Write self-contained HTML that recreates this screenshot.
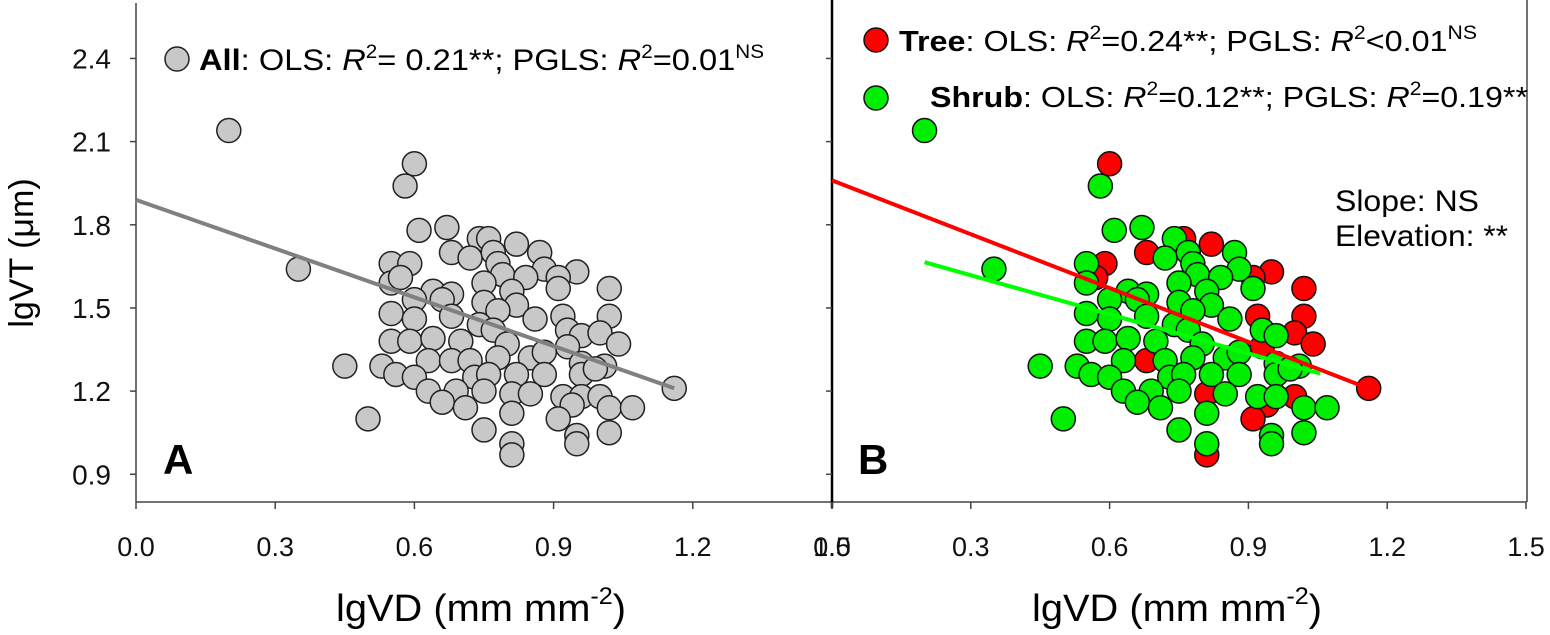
<!DOCTYPE html>
<html><head><meta charset="utf-8"><style>
html,body{margin:0;padding:0;background:#fff;}
svg{display:block;font-family:"Liberation Sans",sans-serif;}
</style></head><body>
<svg id="chart" width="1550" height="635" viewBox="0 0 1550 635">
<g id="axes"></g>
<g id="marks"></g>
<g id="labels">
  <text x="33" y="253" font-size="34" text-anchor="middle" transform="rotate(-90 33 253)">lgVT (μm)</text>
  <text x="336" y="621" font-size="38" textLength="290" lengthAdjust="spacingAndGlyphs">lgVD (mm mm<tspan dy="-17" font-size="24">-2</tspan><tspan dy="17">)</tspan></text>
  <text x="1032" y="621" font-size="38" textLength="290" lengthAdjust="spacingAndGlyphs">lgVD (mm mm<tspan dy="-17" font-size="24">-2</tspan><tspan dy="17">)</tspan></text>
  <text x="163" y="474" font-size="42" font-weight="bold">A</text>
  <text x="858" y="474" font-size="42" font-weight="bold">B</text>
  <g>
    <circle cx="177" cy="59" r="12" fill="#c8c8c8" stroke="#222" stroke-width="1.5"/>
    <text x="199" y="70" font-size="30" textLength="565" lengthAdjust="spacingAndGlyphs"><tspan font-weight="bold">All</tspan>: OLS: <tspan font-style="italic">R</tspan><tspan dy="-12" font-size="19">2</tspan><tspan dy="12">= 0.21**; PGLS: </tspan><tspan font-style="italic">R</tspan><tspan dy="-12" font-size="19">2</tspan><tspan dy="12">=0.01</tspan><tspan dy="-12" font-size="19">NS</tspan></text>
  </g>
  <g>
    <circle cx="876" cy="40" r="12" fill="#ff0000" stroke="#111" stroke-width="1.5"/>
    <text x="899" y="51" font-size="29" textLength="578" lengthAdjust="spacingAndGlyphs"><tspan font-weight="bold">Tree</tspan>: OLS: <tspan font-style="italic">R</tspan><tspan dy="-12" font-size="19">2</tspan><tspan dy="12">=0.24**; PGLS: </tspan><tspan font-style="italic">R</tspan><tspan dy="-12" font-size="19">2</tspan><tspan dy="12">&lt;0.01</tspan><tspan dy="-12" font-size="19">NS</tspan></text>
  </g>
  <g>
    <circle cx="876" cy="98" r="12" fill="#00ee00" stroke="#111" stroke-width="1.5"/>
    <text x="930" y="107" font-size="29" textLength="598" lengthAdjust="spacingAndGlyphs"><tspan font-weight="bold">Shrub</tspan>: OLS: <tspan font-style="italic">R</tspan><tspan dy="-12" font-size="19">2</tspan><tspan dy="12">=0.12**; PGLS: </tspan><tspan font-style="italic">R</tspan><tspan dy="-12" font-size="19">2</tspan><tspan dy="12">=0.19**</tspan></text>
  </g>
  <text x="1335" y="211" font-size="30" textLength="144" lengthAdjust="spacingAndGlyphs">Slope: NS</text>
  <text x="1335" y="246" font-size="30" textLength="173" lengthAdjust="spacingAndGlyphs">Elevation: **</text>
</g>
</svg>
<script>
const xTicks = [0.0, 0.3, 0.6, 0.9, 1.2, 1.5];
const xTickLabels = ["0.0","0.3","0.6","0.9","1.2","1.5"];
const yTicks = [0.9, 1.2, 1.5, 1.8, 2.1, 2.4];
const yTickLabels = ["0.9","1.2","1.5","1.8","2.1","2.4"];
const lgVD = [0.20,0.35,0.45,0.50,0.60,0.58,0.61,0.67,0.74,0.76,0.82,0.87,0.68,0.72,0.77,0.78,0.55,0.59,0.88,0.95,0.79,0.84,0.55,0.57,0.75,0.91,0.91,1.02,0.81,0.64,0.68,0.60,0.66,0.75,0.82,0.78,0.55,0.60,0.68,0.86,0.92,1.02,0.74,0.93,0.96,1.00,0.77,0.55,0.59,0.64,0.70,1.04,0.80,0.93,0.85,0.88,0.63,0.68,0.72,0.78,0.96,1.01,0.53,0.56,0.60,0.73,0.76,0.82,0.88,0.96,0.99,0.63,0.69,0.75,0.81,0.85,0.92,0.96,1.00,0.66,0.71,0.81,0.94,1.02,1.07,0.91,1.02,0.75,0.95,0.95,0.81,0.81,1.16];
const lgVT = [2.14,1.64,1.29,1.10,2.02,1.94,1.78,1.79,1.75,1.75,1.73,1.70,1.70,1.68,1.70,1.66,1.66,1.66,1.64,1.63,1.62,1.61,1.59,1.61,1.59,1.61,1.57,1.57,1.56,1.56,1.55,1.53,1.53,1.52,1.51,1.49,1.48,1.46,1.47,1.46,1.47,1.47,1.44,1.42,1.40,1.41,1.42,1.38,1.38,1.39,1.38,1.37,1.37,1.36,1.32,1.34,1.31,1.31,1.31,1.32,1.30,1.29,1.29,1.26,1.25,1.25,1.26,1.26,1.26,1.26,1.28,1.20,1.20,1.20,1.19,1.19,1.18,1.18,1.18,1.16,1.14,1.12,1.15,1.14,1.14,1.10,1.05,1.06,1.04,1.01,1.01,0.97,1.21];
const growthForm = ["S","S","S","S","T","S","S","S","S","T","T","S","T","S","S","S","S","T","S","T","S","S","S","T","S","T","S","T","S","S","S","S","S","S","S","S","S","S","S","S","T","T","S","S","S","T","S","S","S","S","S","T","S","T","S","S","S","T","S","S","S","S","S","S","S","S","S","S","S","S","S","S","S","S","T","S","S","S","T","S","S","S","T","S","S","T","S","S","S","S","S","T","T"];
const fitAll = {x0:0.0, x1:1.16, intercept:1.89, slope:-0.586};
const fitTree = {x0:0.0, x1:1.16, intercept:1.96, slope:-0.647};
const fitShrub = {x0:0.20, x1:1.055, intercept:1.759, slope:-0.470};

const NS = "http://www.w3.org/2000/svg";
const yTop = 3, yBot = 502;
const panels = {A:{left:136, right:832}, B:{left:832, right:1526}};
const xMin = 0, xMax = 1.5, yMin = 0.8, yMax = 2.6;
function sx(p, v){ return panels[p].left + (v - xMin) / (xMax - xMin) * (panels[p].right - panels[p].left); }
function sy(v){ return yBot - (v - yMin) / (yMax - yMin) * (yBot - yTop); }
function mk(tag, attrs, parent){ const e = document.createElementNS(NS, tag); for (const k in attrs) e.setAttribute(k, attrs[k]); parent.appendChild(e); return e; }

const axes = document.getElementById('axes');
const marks = document.getElementById('marks');
let l = mk('line', {x1:136, y1:yTop, x2:136, y2:yBot, stroke:'#444', 'stroke-width':1.5}, axes);


l = mk('line', {x1:136, y1:yBot, x2:1527, y2:yBot, stroke:'#444', 'stroke-width':1.5}, axes);


l = mk('line', {x1:832, y1:0, x2:832, y2:yBot+6, stroke:'#000', 'stroke-width':2.5}, axes);


l = mk('line', {x1:1527, y1:0, x2:1527, y2:yBot, stroke:'#444', 'stroke-width':1.5}, axes);



['A','B'].forEach(p => {
  xTicks.forEach((t, i) => {
    const x = sx(p, t);
    const tk = mk('line', {x1:x, y1:yBot, x2:x, y2:yBot+7, stroke:'#444', 'stroke-width':1.5}, axes);
    
    
    const tx = mk('text', {x:x, y:yBot+54, 'font-size':27, 'text-anchor':'middle', fill:'#111'}, axes);
    tx.textContent = xTickLabels[i];
    
    
  });
  yTicks.forEach(t => {
    const x0 = panels[p].left;
    const tk = mk('line', {x1:x0-6, y1:sy(t), x2:x0, y2:sy(t), stroke:'#444', 'stroke-width':1.5}, axes);
    
    
  });
});
yTicks.forEach((t, i) => {
  const tx = mk('text', {x:111, y:sy(t)+10, 'font-size':28, 'text-anchor':'end', fill:'#111'}, axes);
  tx.textContent = yTickLabels[i];
  
  
});

lgVD.forEach((v, i) => {
  const c = mk('circle', {cx:sx('A', v), cy:sy(lgVT[i]), r:12, fill:'#c8c8c8', stroke:'#222', 'stroke-width':1.5}, marks);
  
  
});
function fitLine(p, f, color){
  return mk('line', {x1:sx(p, f.x0), y1:sy(f.intercept + f.slope*f.x0), x2:sx(p, f.x1), y2:sy(f.intercept + f.slope*f.x1), stroke:color, 'stroke-width':4}, marks);
}
let fl = fitLine('A', fitAll, '#808080');



['T','S'].forEach(g => {
  lgVD.forEach((v, i) => {
    if (growthForm[i] !== g) return;
    const c = mk('circle', {cx:sx('B', v), cy:sy(lgVT[i]), r:12, fill: g === 'T' ? '#ff0000' : '#00ee00', stroke:'#111', 'stroke-width':1.5}, marks);
    
    
  });
});
fl = fitLine('B', fitTree, '#ff0000');


fl = fitLine('B', fitShrub, '#00ff00');


</script>
</body></html>
